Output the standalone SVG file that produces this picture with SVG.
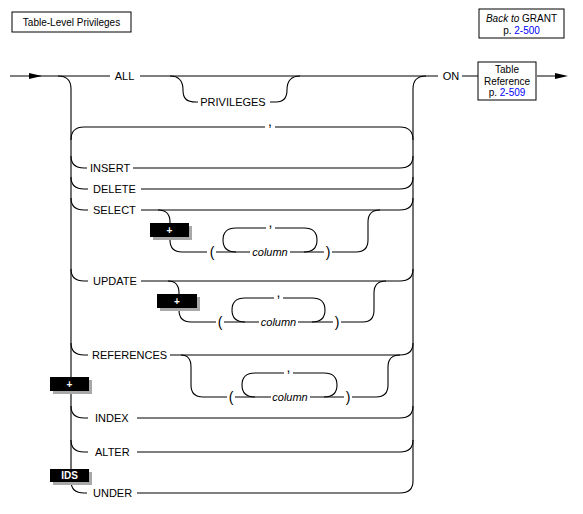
<svg xmlns="http://www.w3.org/2000/svg" width="583" height="514" viewBox="0 0 583 514">
<style>
.ln{fill:none;stroke:#000;stroke-width:1.1}
.t{font-family:"Liberation Sans",Arial,sans-serif;font-size:11px;fill:#000}
.c{font-family:"Liberation Sans",Arial,sans-serif;font-size:14px;fill:#000}
.ti{font-family:"Liberation Sans",Arial,sans-serif;font-size:11px;font-style:italic;fill:#000}
.s{font-family:"Liberation Sans",Arial,sans-serif;font-size:10px;fill:#000}
.lnk{fill:#0000ff}
.box{fill:#fff;stroke:#000;stroke-width:1}
.tag{fill:#000}
.sh{fill:#a8a8a8}
.tw{font-family:"Liberation Sans",Arial,sans-serif;font-size:10px;font-weight:bold;fill:#fff}
</style>
<rect width="583" height="514" fill="#fff"/>

<g id="title">
<rect class="box" x="12" y="12" width="119" height="20"/>
<text class="s" x="71.5" y="26" text-anchor="middle">Table-Level Privileges</text>
</g>
<g id="back">
<rect class="box" x="479" y="9" width="85" height="29"/>
<text class="s" x="521.5" y="22" text-anchor="middle"><tspan font-style="italic">Back to</tspan> GRANT</text>
<text class="s" x="521.5" y="34" text-anchor="middle">p. <tspan class="lnk">2-500</tspan></text>
</g>

<g id="connectors">
<path class="ln" d="M10,76 L110,76 M140,76 L438,76 M462,76 L478,76 M537,76 L556,76"/>
<polygon points="29,73 42,76 29,79" fill="#000"/>
<polygon points="555,73 568,76 555,79" fill="#000"/>
<path class="ln" d="M170,76 C180,76 183,82 183,90 C183,98 186,102 196,102 L198,102 M270,102 L276,102 C284,102 287,98 287,90 C287,82 290,76 300,76"/>
<path class="ln" d="M58,76 Q71,76 71,89 L71,481 Q71,493 84,493 L87,493"/>
<path class="ln" d="M426,76 Q413,76 413,89 L413,481 Q413,493 400,493 L137,493"/>
<path class="ln" d="M71,140 Q71,127 84,127 L265,127 M275,127 L400,127 Q413,127 413,140"/>
<path class="ln" d="M71,156 Q71,168 84,168 L87,168 M71,177 Q71,189 84,189 L88,189 M71,198 Q71,210 84,210 L88,210 M71,269 Q71,281 84,281 L88,281 M71,343 Q71,355 84,355 L88,355 M71,406 Q71,418 84,418 L88,418 M71,440 Q71,452 84,452 L88,452"/>
<path class="ln" d="M133,168 L400,168 Q413,168 413,156 M141,189 L400,189 Q413,189 413,177 M141,210 L400,210 Q413,210 413,198 M141,281 L400,281 Q413,281 413,269 M170,355 L400,355 Q413,355 413,343 M137,418 L400,418 Q413,418 413,406 M137,452 L400,452 Q413,452 413,440"/>
<path class="ln" d="M158,210 C166,210 170,214 170,222 L170,240 C170,248 174,252 182,252 L207,252 M216,252 L250,252 M290,252 L324,252 M332,252 L356,252 C364,252 368,248 368,240 L368,222 C368,214 372,210 380,210"/>
<path class="ln" d="M236,252 C227,252 223,247 223,240 C223,233 227,228 236,228 L266,228 M275,228 L304,228 C313,228 317,233 317,240 C317,247 313,252 304,252"/>
<path class="ln" d="M168,281 C175,281 179,285 179,293 L179,310 C179,318 183,322 191,322 L216,322 M224,322 L259,322 M298,322 L333,322 M341,322 L363,322 C370,322 374,318 374,310 L374,293 C374,285 378,281 386,281"/>
<path class="ln" d="M245,322 C236,322 232,317 232,310 C232,303 236,298 245,298 L274,298 M283,298 L312,298 C321,298 325,303 325,310 C325,317 321,322 312,322"/>
<path class="ln" d="M181,355 C187,355 191,359 191,367 L191,385 C191,393 195,397 203,397 L227,397 M235,397 L271,397 M310,397 L344,397 M352,397 L376,397 C384,397 388,393 388,385 L388,367 C388,359 392,355 400,355"/>
<path class="ln" d="M255,397 C246,397 242,392 242,385 C242,378 246,373 255,373 L284,373 M293,373 L324,373 C333,373 337,378 337,385 C337,392 333,397 324,397"/>
</g>

<g id="labels">
<text class="t" x="124.5" y="80" text-anchor="middle">ALL</text>
<text class="t" x="233" y="106" text-anchor="middle">PRIVILEGES</text>
<text class="t" x="451" y="80" text-anchor="middle">ON</text>
<text class="c" x="270" y="126" text-anchor="middle">,</text>
<text class="t" x="90" y="172">INSERT</text>
<text class="t" x="93" y="193">DELETE</text>
<text class="t" x="93" y="214">SELECT</text>
<text class="t" x="93" y="285">UPDATE</text>
<text class="t" x="92" y="359">REFERENCES</text>
<text class="t" x="95" y="422">INDEX</text>
<text class="t" x="95" y="456">ALTER</text>
<text class="t" x="93" y="497">UNDER</text>
<text class="c" x="212" y="256.5" text-anchor="middle">(</text>
<text class="ti" x="270" y="256" text-anchor="middle">column</text>
<text class="c" x="270.5" y="227" text-anchor="middle">,</text>
<text class="c" x="328" y="256.5" text-anchor="middle">)</text>
<text class="c" x="220" y="326.5" text-anchor="middle">(</text>
<text class="ti" x="278.5" y="326" text-anchor="middle">column</text>
<text class="c" x="278.5" y="297" text-anchor="middle">,</text>
<text class="c" x="337" y="326.5" text-anchor="middle">)</text>
<text class="c" x="231" y="401.5" text-anchor="middle">(</text>
<text class="ti" x="290" y="401" text-anchor="middle">column</text>
<text class="c" x="288.5" y="372" text-anchor="middle">,</text>
<text class="c" x="348" y="401.5" text-anchor="middle">)</text>
</g>

<g id="tableref">
<rect class="box" x="478" y="62" width="58" height="38"/>
<text class="s" x="507" y="73" text-anchor="middle">Table</text>
<text class="s" x="507" y="85" text-anchor="middle">Reference</text>
<text class="s" x="507" y="96" text-anchor="middle">p. <tspan class="lnk">2-509</tspan></text>
</g>

<g id="plus-select">
<rect class="sh" x="153" y="226" width="39" height="14"/>
<rect class="tag" x="150" y="223" width="39" height="14"/>
<text class="tw" x="169.5" y="234" text-anchor="middle">+</text>
</g>
<g id="plus-update">
<rect class="sh" x="160" y="297" width="40" height="14"/>
<rect class="tag" x="157" y="294" width="40" height="14"/>
<text class="tw" x="177" y="305" text-anchor="middle">+</text>
</g>
<g id="plus-references">
<rect class="sh" x="53" y="380" width="39" height="14"/>
<rect class="tag" x="50" y="377" width="39" height="14"/>
<text class="tw" x="69.5" y="388" text-anchor="middle">+</text>
</g>
<g id="ids-under">
<rect class="sh" x="53" y="472" width="39" height="13"/>
<rect class="tag" x="50" y="469" width="39" height="13"/>
<text class="tw" x="69.5" y="479" text-anchor="middle">IDS</text>
</g>
</svg>
